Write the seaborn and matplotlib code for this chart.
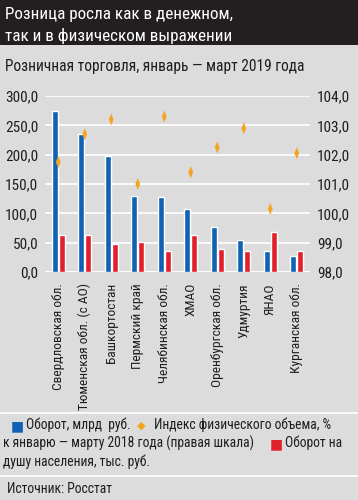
import numpy as np
import pandas as pd
import matplotlib
matplotlib.use("Agg")
import matplotlib.pyplot as plt
from matplotlib.path import Path
import seaborn as sns

# -------------------------
# Data
# -------------------------
regions = [
    "Свердловская обл.", "Тюменская обл. (с АО)", "Башкортостан",
    "Пермский край", "Челябинская обл.", "ХМАО", "Оренбургская обл.",
    "Удмуртия", "ЯНАО", "Курганская обл.",
]
turnover = [275, 236, 197, 130, 127, 107, 76, 55, 36, 28]
per_capita = [63, 63, 47, 51, 35, 63, 40, 36, 68, 36]
volume_index = [101.75, 102.7, 103.2, 101.0, 103.3, 101.4, 102.25, 102.9, 100.15, 102.05]

left_ticks = [0, 50, 100, 150, 200, 250, 300]
right_ticks = [98, 99, 100, 101, 102, 103, 104]

BG = "#dcdcdc"
BLUE = "#0f62b4"
RED = "#e2202b"
ORANGE = "#f3a521"
TXT = "#1e1e1e"
FONT = ["Roboto Condensed", "DejaVu Sans"]

sns.set_theme(style="white")
plt.rcParams["font.family"] = FONT
plt.rcParams["axes.unicode_minus"] = False


def fmt(v):
    return f"{v:.1f}".replace(".", ",")


def px(x, y):
    # pixel coords (top-left origin) -> figure fraction
    return x / 358, 1 - y / 500


df = pd.DataFrame({"region": regions, "turnover": turnover, "per_capita": per_capita})
long = df.melt(id_vars="region", value_vars=["turnover", "per_capita"],
               var_name="series", value_name="value")

fig = plt.figure(figsize=(3.58, 5.0), dpi=100, facecolor=BG)

# title band
fig.patches.append(plt.Rectangle((0, 1 - 45 / 500), 1, 45 / 500, transform=fig.transFigure,
                                 facecolor="#231f20", edgecolor="none", zorder=0))
fig.text(*px(5, 15), "Розница росла как в денежном,", color="white",
         fontsize=12.3, va="center", ha="left")
fig.text(*px(5, 36), "так и в физическом выражении", color="white",
         fontsize=12.3, va="center", ha="left")
fig.text(*px(5, 67), "Розничная торговля, январь — март 2019 года", color=TXT,
         fontsize=11.2, va="center", ha="left")

# separators
for yy in [413, 476]:
    fig.add_artist(plt.Line2D([0, 1], [1 - yy / 500] * 2, color="white", lw=1.2,
                              transform=fig.transFigure))

ax = fig.add_axes([45 / 358, 1 - 272 / 500, 265 / 358, 176 / 500])
ax.set_facecolor(BG)
sns.barplot(data=long, x="region", y="value", hue="series", order=regions,
            hue_order=["turnover", "per_capita"], palette=[BLUE, RED],
            width=0.52, gap=0.12, legend=False, ax=ax, saturation=1)
ax.set_ylim(0, 300)
ax.set_xlim(-0.5, 9.5)
ax.set_yticks(left_ticks)
ax.set_yticklabels([fmt(v) for v in left_ticks], fontsize=11, color=TXT)
ax.set_xticks(range(len(regions)))
ax.set_xticklabels(regions, rotation=90, fontsize=9.6, color=TXT, va="top")
ax.set_xlabel("")
ax.set_ylabel("")
ax.tick_params(axis="y", length=0, pad=5)
ax.tick_params(axis="x", length=0, pad=8)
ax.grid(axis="y", color="white", lw=1.2)
ax.set_axisbelow(True)
for s in ax.spines.values():
    s.set_visible(False)
ax.axhline(0, color="white", lw=1.2, zorder=0)

ax2 = ax.twinx()
diamond = Path([(0, 1), (0.4, 0), (0, -1), (-0.4, 0), (0, 1)],
               [Path.MOVETO, Path.LINETO, Path.LINETO, Path.LINETO, Path.CLOSEPOLY])
sns.scatterplot(x=np.arange(len(regions)), y=volume_index, marker=diamond, s=75,
                color=ORANGE, edgecolor="none", ax=ax2, zorder=5)
ax2.set_ylim(98, 104)
ax2.set_yticks(right_ticks)
ax2.set_yticklabels([fmt(v) for v in right_ticks], fontsize=11, color=TXT)
ax2.tick_params(length=0, pad=5)
ax2.grid(False)
for s in ax2.spines.values():
    s.set_visible(False)

# legend as text
fs = 9.8
fig.text(*px(11, 426), "■", color=BLUE, fontsize=10, va="center", family=["DejaVu Sans"])
fig.text(*px(26, 425), "Оборот, млрд  руб.", color=TXT, fontsize=fs, va="center")
fig.text(*px(137, 426), "◆", color=ORANGE, fontsize=8, va="center", family=["DejaVu Sans"])
fig.text(*px(154, 425), "Индекс физического объема, %", color=TXT, fontsize=fs, va="center")
fig.text(*px(3, 443), "к январю — марту 2018 года (правая шкала)", color=TXT,
         fontsize=fs, va="center")
fig.text(*px(270, 444), "■", color=RED, fontsize=10, va="center", family=["DejaVu Sans"])
fig.text(*px(285, 443), "Оборот на", color=TXT, fontsize=fs, va="center")
fig.text(*px(3, 462), "душу населения, тыс. руб.", color=TXT, fontsize=fs, va="center")

fig.text(*px(7, 489), "Источник: Росстат", color=TXT, fontsize=fs, va="center")

fig.savefig("out.png", dpi=100, facecolor=BG)
